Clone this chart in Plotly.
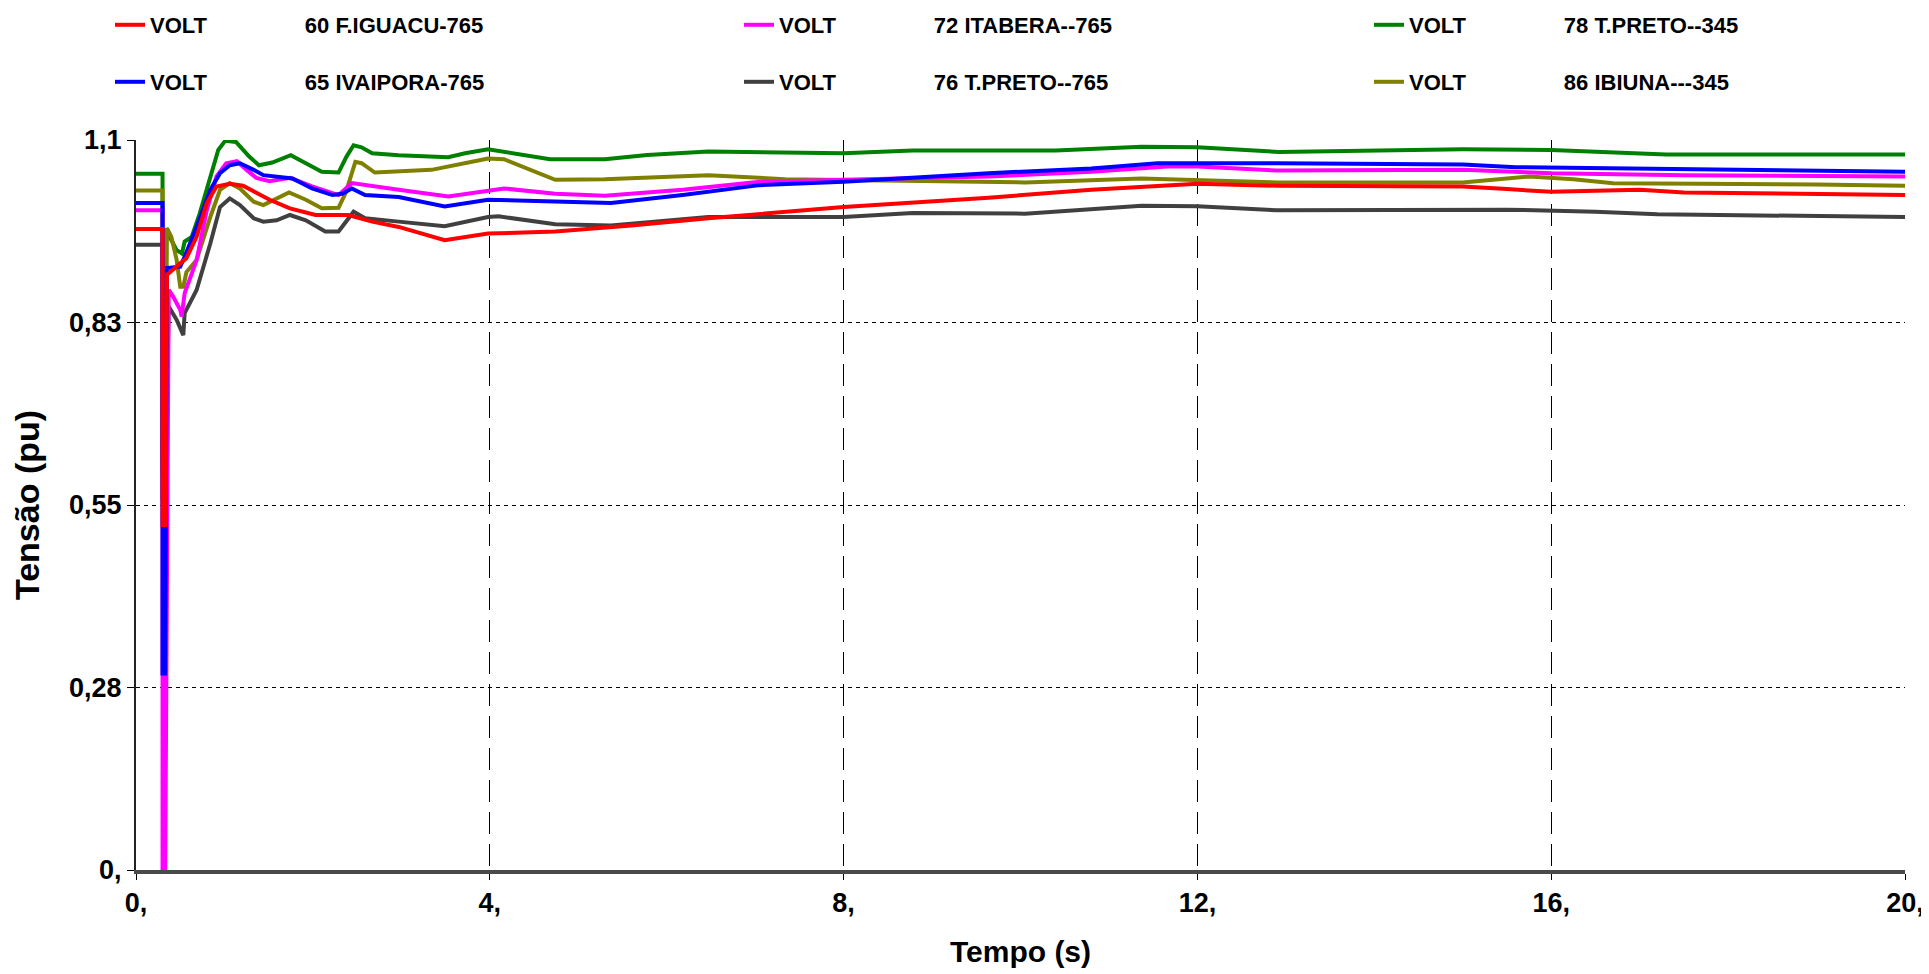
import plotly.graph_objects as go

# ---------------- data ----------------
t_60 = [0, 0.30, 0.30, 0.33, 0.35, 0.50, 0.57, 0.685, 0.80, 0.91, 1.06, 1.21, 1.36, 1.51, 1.74,
        2.03, 2.40, 2.48, 2.67, 2.97, 3.49, 3.98, 4.74, 5.6, 6.47, 8.0, 9.64, 10.8, 12.0, 12.9,
        15.0, 15.5, 16.0, 17.0, 17.5, 20.0]
v_60 = [0.966, 0.966, 0.52, 0.52, 0.897, 0.914, 0.922, 0.954, 1.005, 1.030, 1.034, 1.031, 1.020, 1.010, 0.997,
        0.987, 0.987, 0.984, 0.977, 0.969, 0.949, 0.959, 0.962, 0.971, 0.982, 0.999, 1.013, 1.025, 1.034, 1.031,
        1.030, 1.026, 1.022, 1.025, 1.021, 1.017]

t_65 = [0, 0.30, 0.30, 0.33, 0.35, 0.50, 0.55, 0.685, 0.84, 0.95, 1.06, 1.175, 1.33, 1.44, 1.77,
        1.99, 2.22, 2.33, 2.44, 2.59, 2.97, 3.49, 3.98, 5.03, 5.37, 6.18, 7.05, 8.0, 9.64, 10.8,
        11.55, 12.9, 15.0, 15.6, 17.5, 20.0]
v_65 = [1.005, 1.005, 0.296, 0.296, 0.907, 0.909, 0.924, 0.969, 1.025, 1.050, 1.062, 1.065, 1.055, 1.047, 1.042,
        1.027, 1.017, 1.019, 1.027, 1.017, 1.014, 1.000, 1.010, 1.007, 1.005, 1.017, 1.032, 1.037, 1.050, 1.057,
        1.065, 1.065, 1.063, 1.059, 1.056, 1.052]

t_72 = [0, 0.30, 0.30, 0.33, 0.37, 0.42, 0.50, 0.516, 0.55, 0.685, 0.80, 0.91, 1.02, 1.14, 1.25,
        1.36, 1.51, 1.74, 1.99, 2.29, 2.44, 2.59, 2.97, 3.53, 3.98, 4.16, 4.74, 5.3, 6.18, 7.05,
        8.0, 9.64, 10.8, 11.66, 12.0, 12.9, 15.0, 16.0, 17.5, 20.0]
v_72 = [0.994, 0.994, 0.0, 0.0, 0.874, 0.864, 0.844, 0.834, 0.869, 0.919, 0.994, 1.045, 1.065, 1.068, 1.055,
        1.043, 1.038, 1.043, 1.030, 1.017, 1.035, 1.032, 1.025, 1.015, 1.024, 1.027, 1.019, 1.016, 1.025, 1.037,
        1.040, 1.045, 1.052, 1.060, 1.060, 1.054, 1.055, 1.050, 1.047, 1.045]

t_76 = [0, 0.30, 0.30, 0.33, 0.37, 0.46, 0.535, 0.55, 0.685, 0.84, 0.95, 1.06, 1.175, 1.33, 1.44,
        1.59, 1.74, 1.92, 2.14, 2.29, 2.46, 2.59, 2.97, 3.49, 3.98, 4.1, 4.74, 5.37, 6.47, 8.0,
        8.78, 10.05, 11.37, 12.0, 12.9, 15.5, 16.5, 17.2, 20.0]
v_76 = [0.942, 0.942, 0.56, 0.56, 0.849, 0.829, 0.806, 0.839, 0.874, 0.944, 0.999, 1.012, 1.002, 0.982, 0.977,
        0.979, 0.987, 0.979, 0.962, 0.962, 0.992, 0.982, 0.977, 0.970, 0.984, 0.985, 0.973, 0.971, 0.984, 0.984,
        0.990, 0.989, 1.001, 1.000, 0.994, 0.995, 0.992, 0.988, 0.984]

t_78 = [0, 0.30, 0.30, 0.33, 0.34, 0.38, 0.46, 0.52, 0.55, 0.63, 0.72, 0.84, 0.93, 1.01, 1.13,
        1.28, 1.39, 1.54, 1.75, 1.92, 2.10, 2.29, 2.38, 2.46, 2.55, 2.67, 2.97, 3.53, 3.72, 3.98,
        4.68, 5.3, 5.78, 6.47, 8.0, 8.78, 10.4, 11.37, 12.0, 12.92, 14.5, 15.0, 16.0, 16.83, 17.3, 20.0]
v_78 = [1.049, 1.049, 0.62, 0.62, 0.967, 0.954, 0.934, 0.929, 0.947, 0.954, 0.989, 1.045, 1.085, 1.099, 1.097,
        1.075, 1.062, 1.066, 1.077, 1.065, 1.052, 1.051, 1.075, 1.092, 1.089, 1.080, 1.077, 1.074, 1.080, 1.086,
        1.071, 1.071, 1.0775, 1.0825, 1.080, 1.084, 1.084, 1.090, 1.089, 1.082, 1.084, 1.086, 1.085, 1.081, 1.078, 1.078]

t_86 = [0, 0.30, 0.30, 0.33, 0.35, 0.40, 0.46, 0.50, 0.535, 0.57, 0.685, 0.84, 0.95, 1.06, 1.175,
        1.33, 1.44, 1.73, 1.92, 2.10, 2.29, 2.37, 2.48, 2.55, 2.70, 3.34, 3.87, 3.98, 4.16, 4.74,
        5.3, 6.47, 7.34, 8.0, 10.05, 11.37, 12.0, 12.9, 15.0, 15.75, 16.25, 16.7, 19.0, 20.0]
v_86 = [1.024, 1.024, 0.60, 0.60, 0.967, 0.954, 0.919, 0.879, 0.879, 0.901, 0.919, 0.984, 1.025, 1.035, 1.027,
        1.007, 1.002, 1.021, 1.010, 0.997, 0.998, 1.020, 1.067, 1.065, 1.051, 1.055, 1.069, 1.072, 1.071, 1.040,
        1.041, 1.047, 1.041, 1.040, 1.036, 1.042, 1.040, 1.036, 1.036, 1.045, 1.041, 1.035, 1.033, 1.031]

x_tickvals = [0, 4, 8, 12, 16, 20]
x_ticktext = ["0,", "4,", "8,", "12,", "16,", "20,"]
y_tickvals = [0, 0.275, 0.55, 0.825, 1.1]
y_ticktext = ["0,", "0,28", "0,55", "0,83", "1,1"]

GAP = "\u00a0" * 16
# (name, times, values, colour, legend id, column, row) in drawing order (bottom first)
series = [
    ("VOLT" + GAP + "78 T.PRETO--345", t_78, v_78, "#008000", "legend5", 2, 0),
    ("VOLT" + GAP + "86 IBIUNA---345", t_86, v_86, "#808000", "legend6", 2, 1),
    ("VOLT" + GAP + "76 T.PRETO--765", t_76, v_76, "#404040", "legend4", 1, 1),
    ("VOLT" + GAP + "72 ITABERA--765", t_72, v_72, "#FF00FF", "legend3", 1, 0),
    ("VOLT" + GAP + "65 IVAIPORA-765", t_65, v_65, "#0000FF", "legend2", 0, 1),
    ("VOLT" + GAP + "60 F.IGUACU-765", t_60, v_60, "#FF0000", "legend", 0, 0),
]

FONT = "Liberation Sans, Arial, sans-serif"
# the page body adds an 8 px offset, so the figure fills the rest of the window
W, H = 1921, 966
col_x = [102, 731, 1361]
row_y = [17, 74]

fig = go.Figure()
legends = {}
for name, tt, vv, col, lg, c, r in series:
    fig.add_trace(go.Scatter(
        x=tt, y=vv, mode="lines", name=name,
        line=dict(color=col, width=4),
        legend=lg, showlegend=True,
    ))
    legends[lg] = dict(
        orientation="h", xref="container", yref="container",
        x=col_x[c] / W, y=1 - row_y[r] / H,
        xanchor="left", yanchor="middle",
        font=dict(family=FONT, size=22, color="black", weight="bold"),
        bgcolor="rgba(0,0,0,0)", borderwidth=0, itemwidth=30,
    )

fig.update_layout(
    width=W, height=H, showlegend=True,
    paper_bgcolor="white", plot_bgcolor="white",
    margin=dict(l=128, r=24, t=132, b=104, autoexpand=False),
    font=dict(family=FONT, color="black"),
    **legends,
)

fig.update_xaxes(
    range=[0, 20], tickmode="array", tickvals=x_tickvals, ticktext=x_ticktext,
    ticks="outside", ticklen=6, tickcolor="black", tickwidth=1,
    tickfont=dict(family=FONT, size=27, weight="bold", color="black"),
    showgrid=True, gridcolor="black", gridwidth=1.2, griddash="22px,10px",
    showline=True, linecolor="#4a4a4a", linewidth=4,
    zeroline=False, automargin=False,
    title=dict(text="Tempo (s)", font=dict(family=FONT, size=30, weight="bold", color="black"), standoff=25),
)
fig.update_yaxes(
    range=[0, 1.1], tickmode="array", tickvals=y_tickvals, ticktext=y_ticktext,
    ticks="outside", ticklen=7, tickcolor="black", tickwidth=1,
    tickfont=dict(family=FONT, size=27, weight="bold", color="black"),
    showgrid=True, gridcolor="black", gridwidth=1.2, griddash="4px,4px",
    showline=True, linecolor="#222222", linewidth=2,
    zeroline=False, automargin=False,
    title=dict(text="Tensão (pu)", font=dict(family=FONT, size=34, weight="bold", color="black"), standoff=20),
)

fig.write_html("out.html")
